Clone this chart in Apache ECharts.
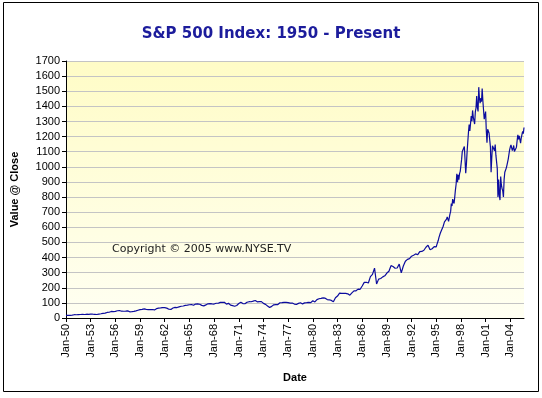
<!DOCTYPE html>
<html>
<head>
<meta charset="utf-8">
<script src="https://cdn.jsdelivr.net/npm/echarts@6/dist/echarts.min.js"></script>
<style>
  html, body { margin: 0; padding: 0; background: #fff; }
  #chart { width: 542px; height: 398px; }
</style>
</head>
<body>
<div id="chart"></div>
<script>
// S&P 500 close, quarterly (Jan, Apr, Jul, Oct) 1950 - 1994
var quarterStartYear = 1950;
var quarterValues = [
  17.0, 17.9, 17.8, 19.5,   21.7, 21.5, 22.4, 23.0,   24.1, 23.3, 25.0, 24.5,
  26.0, 25.0, 24.2, 23.0,   26.1, 28.3, 31.0, 32.0,   36.6, 37.9, 43.2, 42.0,
  43.8, 48.0, 49.4, 45.0,   44.7, 45.7, 47.4, 41.0,   41.7, 43.4, 47.2, 51.3,
  55.4, 57.6, 60.5, 57.5,   55.6, 55.0, 56.0, 53.4,   61.8, 65.3, 66.8, 68.6,
  68.8, 65.2, 58.0, 56.5,   66.2, 69.8, 69.1, 74.0,   77.8, 79.5, 83.2, 85.0,
  87.6, 89.1, 84.0, 92.0,   92.9, 91.1, 83.6, 80.2,   86.6, 94.0, 94.7, 93.3,
  92.2, 97.5, 97.7, 103.4,  103.0, 103.7, 91.8, 97.1, 85.0, 81.5, 78.0, 83.0,
  95.9, 103.9, 95.6, 94.2,  103.9, 107.7, 107.4, 111.6, 116.0, 106.9, 108.2, 108.3,
  96.6, 90.3, 79.3, 69.0,   76.9, 87.3, 88.8, 89.0,   100.9, 101.6, 103.4, 102.9,
  102.0, 98.4, 98.9, 92.3,  89.3, 96.8, 100.7, 93.2,  99.9, 101.8, 103.8, 101.8,
  114.2, 106.3, 121.7, 127.5, 129.5, 132.8, 130.9, 121.9, 120.4, 116.4, 107.1, 133.7,
  145.3, 164.4, 162.6, 163.6, 163.4, 160.1, 150.7, 166.1, 179.6, 179.8, 190.9, 189.8,
  211.8, 235.5, 236.1, 231.3, 274.1, 288.4, 330.0, 225.0, 257.1, 261.3, 272.0, 278.9,
  297.5, 309.6, 346.1, 340.4, 329.1, 330.8, 356.2, 298.0, 343.9, 375.3, 387.8, 392.5,
  408.8, 414.9, 424.2, 418.7, 438.8, 440.2, 448.1, 467.8, 481.6, 450.9, 458.3, 472.4
];

// monthly 1995 - Sep 2005
var monthStartYear = 1995;
var monthValues = [
  470, 487, 500, 514, 533, 545, 562, 562, 584, 582, 605, 616,
  636, 641, 646, 654, 669, 671, 639, 652, 687, 705, 757, 741,
  786, 791, 757, 801, 848, 885, 954, 899, 947, 915, 955, 970,
  980, 1049, 1102, 1112, 1091, 1134, 1121, 957, 1017, 1099, 1164, 1229,
  1280, 1238, 1286, 1335, 1302, 1373, 1329, 1320, 1283, 1363, 1389, 1469,
  1394, 1366, 1527, 1452, 1421, 1455, 1431, 1518, 1437, 1429, 1315, 1320,
  1366, 1240, 1160, 1249, 1256, 1224, 1211, 1134, 965, 1060, 1139, 1148,
  1130, 1107, 1147, 1077, 1067, 990, 800, 916, 815, 780, 936, 880,
  856, 841, 800, 917, 964, 975, 990, 1008, 996, 1051, 1058, 1112,
  1131, 1145, 1126, 1107, 1121, 1141, 1102, 1104, 1115, 1130, 1174, 1212,
  1181, 1204, 1181, 1157, 1192, 1191, 1234, 1220, 1260
];

// x tick labels every 3 years (Jan of each)
var tickYears = [1950, 1953, 1956, 1959, 1962, 1965, 1968, 1971, 1974, 1977,
  1980, 1983, 1986, 1989, 1992, 1995, 1998, 2001, 2004];

// x position in fractional years
var seriesData = [];
quarterValues.forEach(function (v, i) {
  seriesData.push([quarterStartYear + i / 4, v]);
});
monthValues.forEach(function (v, i) {
  seriesData.push([monthStartYear + i / 12, v]);
});

var chart = echarts.init(document.getElementById('chart'));

var option = {
  animation: false,
  backgroundColor: '#fff',
  title: {
    text: 'S&P 500 Index: 1950 - Present',
    left: 'center',
    top: 22,
    textStyle: { fontFamily: 'DejaVu Sans', fontWeight: 'bold', fontSize: 15, color: '#1c1c9c' }
  },
  grid: {
    left: 66, right: 18, top: 61, bottom: 80,
    show: true,
    borderWidth: 0,
    backgroundColor: new echarts.graphic.LinearGradient(0, 0, 0, 1, [
      { offset: 0, color: '#fffcc6' },
      { offset: 1, color: '#fffff2' }
    ])
  },
  xAxis: {
    type: 'value',
    min: 1950,
    max: 2005 + 8 / 12,
    name: 'Date',
    nameLocation: 'middle',
    nameGap: 54,
    nameTextStyle: { fontFamily: 'Liberation Sans', fontWeight: 'bold', fontSize: 11, color: '#000' },
    axisLine: { onZero: false, lineStyle: { color: '#000', width: 1 } },
    axisTick: { show: true, customValues: tickYears, length: 4, lineStyle: { color: '#000' } },
    axisLabel: {
      customValues: tickYears,
      rotate: 90,
      margin: 6,
      fontFamily: 'Liberation Sans',
      fontSize: 11,
      color: '#000',
      formatter: function (val) {
        return 'Jan-' + String(Math.round(val)).slice(2);
      }
    },
    splitLine: { show: false }
  },
  yAxis: {
    type: 'value',
    min: 0,
    max: 1700,
    interval: 100,
    name: 'Value @ Close',
    nameLocation: 'middle',
    nameGap: 46,
    nameTextStyle: { fontFamily: 'Liberation Sans', fontWeight: 'bold', fontSize: 11, color: '#000' },
    axisLine: { show: true, lineStyle: { color: '#000' } },
    axisTick: { show: true, length: 4, lineStyle: { color: '#000' } },
    axisLabel: {
      fontFamily: 'Liberation Sans', fontSize: 11, color: '#000', margin: 6,
      formatter: function (val) { return String(val); }
    },
    splitLine: { lineStyle: { color: '#c4c4c4', width: 1 } }
  },
  series: [{
    type: 'line',
    data: seriesData,
    showSymbol: false,
    lineStyle: { color: '#0c0c9e', width: 1.2 }
  }],
  graphic: [
    {
      type: 'rect',
      shape: { x: 3.5, y: 2.5, width: 535, height: 389 },
      style: { fill: 'none', stroke: '#000', lineWidth: 1 },
      silent: true
    },
    {
      type: 'text',
      left: 112,
      top: 244,
      style: {
        text: 'Copyright \u00a9 2005 www.NYSE.TV',
        font: '11px "DejaVu Sans"',
        fill: '#222'
      }
    }
  ]
};

chart.setOption(option);
</script>
</body>
</html>
